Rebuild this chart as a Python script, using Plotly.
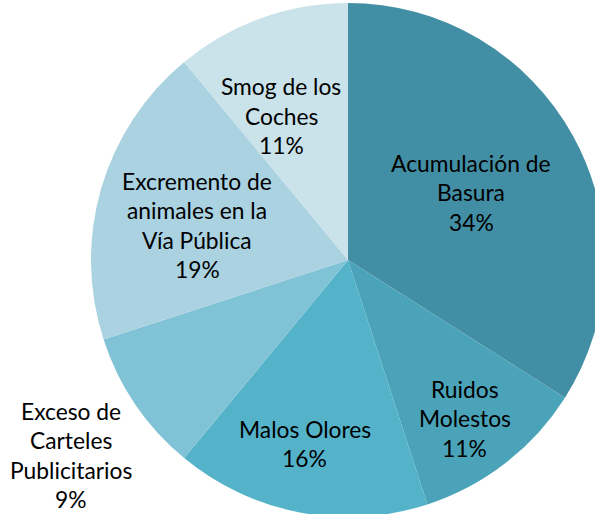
import math
import plotly.graph_objects as go

labels = ["Acumulación de Basura", "Ruidos Molestos", "Malos Olores",
          "Exceso de Carteles Publicitarios", "Excremento de animales en la Vía Pública",
          "Smog de los Coches"]
label_lines = [["Acumulación de", "Basura"], ["Ruidos", "Molestos"], ["Malos Olores"],
               ["Exceso de", "Carteles", "Publicitarios"],
               ["Excremento de", "animales en la", "Vía Pública"], ["Smog de los", "Coches"]]
values = [34, 11, 16, 9, 19, 11]
colors = ["#428FA5", "#4AA3B8", "#54B3C9", "#80C3D6", "#AAD2E1", "#CAE2EA"]
# label placement: radius as a fraction of the pie radius, angle shift (deg) from slice middle
label_radius = [0.547, 0.765, 0.733, 1.318, 0.603, 0.618]
label_shift = [0.0, 1.3, 2.4, -0.9, -3.15, -5.15]

W, H = 620, 530
cx, cy, R = 348, 260, 257

fig = go.Figure(go.Pie(
    labels=labels, values=values, sort=False, direction="clockwise", rotation=0,
    marker=dict(colors=colors, line=dict(width=0)),
    textinfo="none", hoverinfo="label+percent", showlegend=False,
    domain=dict(x=[(cx - R) / W, (cx + R) / W], y=[(H - cy - R) / H, (H - cy + R) / H]),
))

total = sum(values)
annotations = []
start = 0.0
font = dict(family="Lato, sans-serif", size=22.8, color="#000000")
line_h = 29.5
for i, v in enumerate(values):
    mid = math.radians((start + v / 2) / total * 360 + label_shift[i])
    start += v
    r = label_radius[i] * R
    px = cx + r * math.sin(mid)
    py = cy - r * math.cos(mid)
    lines = label_lines[i] + [f"{round(v / total * 100)}%"]
    n = len(lines)
    for k, t in enumerate(lines):
        yy = py + (k - (n - 1) / 2) * line_h
        annotations.append(dict(x=px / W, y=1 - yy / H, xref="paper", yref="paper",
                                text=t, showarrow=False, font=font,
                                xanchor="center", yanchor="middle"))

fig.update_layout(width=W, height=H, margin=dict(l=0, r=0, t=0, b=0),
                  paper_bgcolor="white", plot_bgcolor="white",
                  annotations=annotations)
fig.write_html("out.html", config={"displayModeBar": False}, post_script=(
    "document.body.style.margin='0';"
    "document.body.style.overflow='hidden';"
    "document.documentElement.style.overflow='hidden';"))
